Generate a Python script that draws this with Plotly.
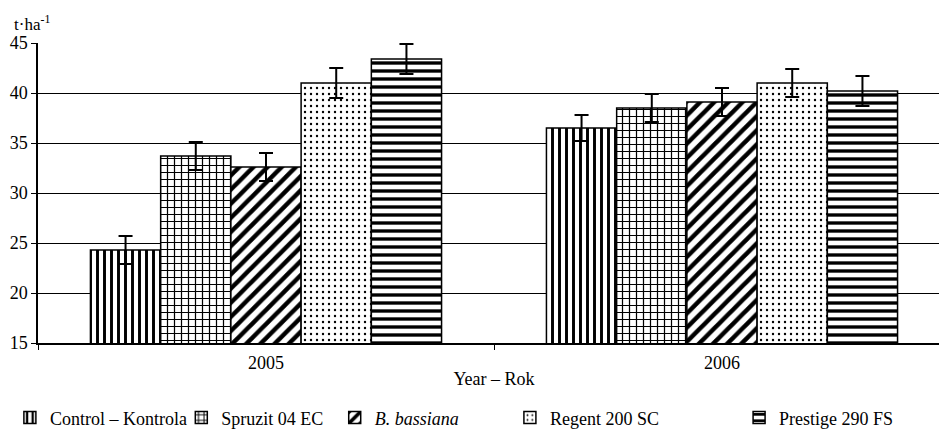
import plotly.graph_objects as go

years = ["2005", "2006"]
series = ["Control – Kontrola", "Spruzit 04 EC", "<i>B. bassiana</i>", "Regent 200 SC", "Prestige 290 FS"]
control = [24.3, 36.5]
spruzit = [33.7, 38.5]
bbassiana = [32.6, 39.1]
regent = [41.0, 41.0]
prestige = [43.4, 40.2]
err_control = [1.4, 1.3]
err_spruzit = [1.4, 1.4]
err_bbassiana = [1.4, 1.4]
err_regent = [1.5, 1.4]
err_prestige = [1.5, 1.5]

values = [control, spruzit, bbassiana, regent, prestige]
errors = [err_control, err_spruzit, err_bbassiana, err_regent, err_prestige]
patterns = [
    dict(shape="|", size=7, solidity=0.42),
    dict(shape="+", size=7, solidity=0.32),
    dict(shape="/", size=10, solidity=0.45),
    dict(shape=".", size=6, solidity=0.12),
    dict(shape="-", size=8, solidity=0.42),
]
legend_x = [0.002, 0.183, 0.345, 0.530, 0.772]

fig = go.Figure()
for i, (name, v, e, p) in enumerate(zip(series, values, errors, patterns)):
    lg = "legend" if i == 0 else f"legend{i+1}"
    fig.add_trace(go.Bar(
        x=years, y=v, name=name, legend=lg,
        marker=dict(color="white", line=dict(color="black", width=1.5),
                    pattern=dict(fgcolor="black", bgcolor="white", fillmode="replace", **p)),
        error_y=dict(type="data", array=e, visible=True, color="black", thickness=2, width=7),
    ))

serif = "Liberation Serif"
font = dict(family=serif, size=18, color="black")
layout_legends = {}
for i in range(5):
    key = "legend" if i == 0 else f"legend{i+1}"
    layout_legends[key] = dict(
        x=legend_x[i], y=0.06, xref="container", yref="container",
        xanchor="left", yanchor="middle", orientation="h",
        font=font, bgcolor="rgba(0,0,0,0)", itemwidth=30,
    )

fig.update_layout(
    width=947, height=436,
    margin=dict(l=30, r=5, t=35, b=101, autoexpand=False),
    paper_bgcolor="white", plot_bgcolor="white",
    font=font,
    barmode="group", bargap=0.23, bargroupgap=0,
    showlegend=True,
    **layout_legends,
)
fig.update_xaxes(
    type="category", range=[-0.5, 1.5], showline=True, linecolor="black", linewidth=1.5,
    ticks="outside", tickson="boundaries", ticklen=5, tickcolor="black",
    ticklabelstandoff=3,
    title=dict(text="Year – Rok", font=font, standoff=0), tickfont=font,
)
fig.update_yaxes(
    range=[15, 45], dtick=5, showline=True, linecolor="black", linewidth=1.5,
    ticks="outside", ticklen=5, tickcolor="black", showgrid=True, gridcolor="black",
    gridwidth=1, tickfont=font, zeroline=False,
)
fig.add_annotation(text="t·ha<sup>-1</sup>", xref="paper", yref="paper", x=-0.029, y=1.0,
                   yshift=7, xanchor="left", yanchor="bottom", showarrow=False,
                   font=dict(family=serif, size=17, color="black"))
fig.write_html("out.html")
